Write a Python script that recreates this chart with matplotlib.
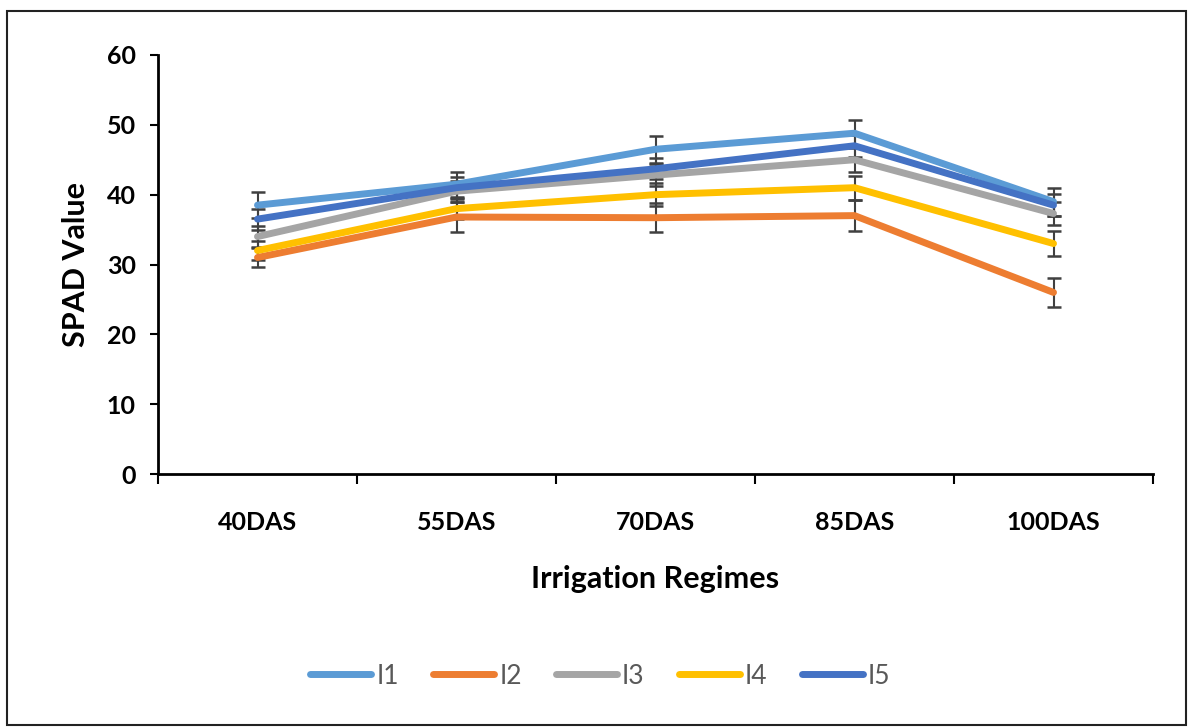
import matplotlib
matplotlib.use("Agg")
import matplotlib.pyplot as plt
from matplotlib.patches import Rectangle
import numpy as np

categories = ["40DAS", "55DAS", "70DAS", "85DAS", "100DAS"]
series_names = ["I1", "I2", "I3", "I4", "I5"]
I1 = [38.5, 41.5, 46.5, 48.8, 39.0]
I2 = [31.0, 36.8, 36.7, 37.0, 26.0]
I3 = [34.0, 40.5, 42.8, 45.0, 37.3]
I4 = [32.0, 38.0, 40.0, 41.0, 33.0]
I5 = [36.5, 41.0, 43.7, 47.0, 38.5]
I1_err = [1.9, 1.8, 1.9, 1.9, 2.0]
I2_err = [1.4, 2.2, 2.1, 2.2, 2.1]
I3_err = [1.5, 1.5, 1.6, 1.7, 1.6]
I4_err = [1.4, 1.5, 1.6, 1.7, 1.8]
I5_err = [1.5, 1.6, 1.5, 1.6, 1.6]
colors = ["#5B9BD5", "#ED7D31", "#A5A5A5", "#FFC000", "#4472C4"]
yticks = [0, 10, 20, 30, 40, 50, 60]

plt.rcParams['font.family'] = ['Lato', 'DejaVu Sans']

fig = plt.figure(figsize=(11.89, 7.27), dpi=100)
ax = fig.add_axes([158/1189, 1-474/727, (1153-158)/1189, (474-55)/727])

x = np.arange(len(categories))
data = [I1, I2, I3, I4, I5]
errs = [I1_err, I2_err, I3_err, I4_err, I5_err]
handles = []
for name, vals, err, c in zip(series_names, data, errs, colors):
    ax.errorbar(x, vals, yerr=err, fmt='none', ecolor='#404040', elinewidth=1.5,
                capsize=5, capthick=1.8, zorder=2)
for name, vals, c in zip(series_names, data, colors):
    h, = ax.plot(x, vals, color=c, lw=5, solid_capstyle='round', label=name, zorder=3)
    handles.append(h)

ax.set_xlim(-0.5, len(categories) - 0.5)
ax.set_ylim(0, 60)
ax.set_yticks(yticks)
ax.set_yticklabels([str(t) for t in yticks], fontsize=18, fontweight='bold')
ax.set_xticks(x)
ax.set_xticklabels(categories, fontsize=18, fontweight='bold')
ax.set_xticks(np.arange(-0.5, len(categories)), minor=True)
ax.tick_params(axis='x', which='major', length=0, pad=27)
ax.tick_params(axis='x', which='minor', length=7, width=1.5, direction='out')
ax.tick_params(axis='y', length=6, width=1.5, direction='out', pad=10)
for s in ['top', 'right']:
    ax.spines[s].set_visible(False)
for s in ['left', 'bottom']:
    ax.spines[s].set_linewidth(2)

ax.set_ylabel("SPAD Value", fontsize=22, fontweight='bold', labelpad=12)
ax.set_xlabel("Irrigation Regimes", fontsize=22, fontweight='bold', labelpad=22)

leg = fig.legend(handles=handles, labels=series_names, loc='center', bbox_to_anchor=(0.505, 1-676/727),
                 ncol=5, frameon=False, fontsize=19, handlelength=2.3, columnspacing=1.3,
                 handletextpad=0.2)
for t in leg.get_texts():
    t.set_color('#595959')

fig.patches.append(Rectangle((7/1189, 2/727), (1186-7)/1189, (716-2)/727, transform=fig.transFigure,
                             fill=False, edgecolor='#222222', lw=1.5))

fig.savefig("out.png", dpi=100)
